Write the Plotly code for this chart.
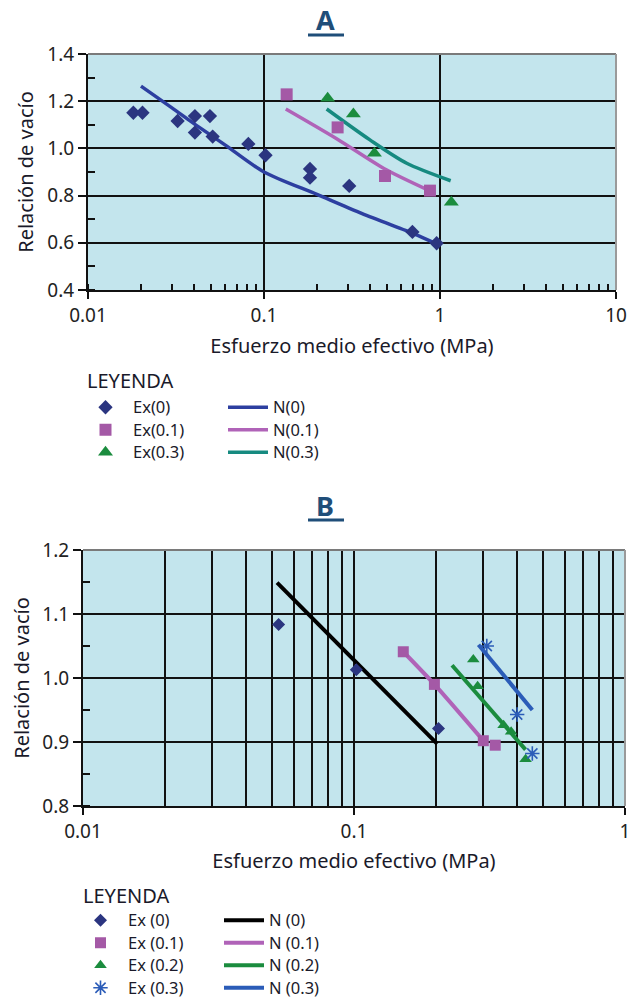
import plotly.graph_objects as go

# ---------------- Panel A data ----------------
a_ex0_x = [0.0181, 0.0204, 0.0323, 0.0405, 0.0405, 0.0493, 0.0511, 0.0815, 0.102, 0.1825, 0.1825, 0.305, 0.697, 0.957]
a_ex0_y = [1.151, 1.151, 1.116, 1.137, 1.067, 1.137, 1.050, 1.019, 0.971, 0.913, 0.876, 0.841, 0.646, 0.598]
a_ex01_x = [0.1345, 0.262, 0.487, 0.877]
a_ex01_y = [1.229, 1.089, 0.883, 0.821]
a_ex03_x = [0.230, 0.322, 0.424, 1.16]
a_ex03_y = [1.212, 1.146, 0.979, 0.772]
a_n0_x = [0.020, 0.030, 0.040, 0.060, 0.10, 0.20, 0.35, 0.70, 0.96]
a_n0_y = [1.264, 1.172, 1.105, 1.015, 0.900, 0.805, 0.728, 0.640, 0.595]
a_n01_x = [0.133, 0.26, 0.48, 0.877]
a_n01_y = [1.167, 1.040, 0.915, 0.820]
a_n03_x = [0.227, 0.40, 0.647, 1.15]
a_n03_y = [1.167, 1.036, 0.937, 0.863]

# ---------------- Panel B data ----------------
b_ex0_x = [0.0527, 0.102, 0.205]
b_ex0_y = [1.0835, 1.013, 0.921]
b_ex01_x = [0.152, 0.198, 0.300, 0.332]
b_ex01_y = [1.041, 0.990, 0.902, 0.895]
b_ex02_x = [0.2756, 0.2859, 0.3565, 0.380, 0.4296]
b_ex02_y = [1.029, 0.987, 0.926, 0.916, 0.873]
b_ex03_x = [0.309, 0.400, 0.455]
b_ex03_y = [1.050, 0.943, 0.882]
b_n0_x = [0.052, 0.2028]
b_n0_y = [1.149, 0.897]
b_n01_x = [0.152, 0.198, 0.300]
b_n01_y = [1.041, 0.990, 0.902]
b_n02_x = [0.230, 0.4296]
b_n02_y = [1.020, 0.888]
b_n03_x = [0.288, 0.455]
b_n03_y = [1.052, 0.950]

# Figure is a little taller than the 999px window so the bottom legend row is not clipped
# by plotly; the window shows the top 999px.
W, H = 640, 1012
def px(x):
    return x / W
def py(y):
    return 1 - y / H

C_DIAM = "#2B3580"
C_SQ = "#A459A6"
C_TRI = "#1B8C3E"
C_N0A = "#2D3FA0"
C_N01 = "#B063B8"
C_N03A = "#168A80"
C_N02B = "#1B8C3E"
C_N03B = "#2B5CB8"
BG = "#C3E5ED"
FONT = "Noto Sans"
TXT = "#1a1a2a"

def lab(s):
    # legend label drawn a bit larger than the legend row pitch font
    return '<span style="font-size:16.5px">%s</span>' % s

fig = go.Figure()

def mk(x, y, name, sym, color, size, xa, ya, legend, lw=0):
    return go.Scatter(x=x, y=y, mode="markers", name=lab(name), xaxis=xa, yaxis=ya, legend=legend,
                      marker=dict(symbol=sym, color=color, size=size,
                                  line=dict(width=lw, color=color)))

def ln(x, y, name, color, width, xa, ya, legend):
    return go.Scatter(x=x, y=y, mode="lines", name=lab(name), xaxis=xa, yaxis=ya, legend=legend,
                      line=dict(color=color, width=width, shape="spline", smoothing=0.8))

# Panel A
fig.add_trace(ln(a_n0_x, a_n0_y, "N(0)", C_N0A, 3.5, "x", "y", "legend2"))
fig.add_trace(ln(a_n01_x, a_n01_y, "N(0.1)", C_N01, 3.5, "x", "y", "legend2"))
fig.add_trace(ln(a_n03_x, a_n03_y, "N(0.3)", C_N03A, 3.5, "x", "y", "legend2"))
fig.add_trace(mk(a_ex0_x, a_ex0_y, "Ex(0)", "diamond", C_DIAM, 11, "x", "y", "legend"))
fig.add_trace(mk(a_ex01_x, a_ex01_y, "Ex(0.1)", "square", C_SQ, 12, "x", "y", "legend"))
fig.add_trace(mk(a_ex03_x, a_ex03_y, "Ex(0.3)", "triangle-up", C_TRI, 13, "x", "y", "legend"))

# Panel B
fig.add_trace(ln(b_n0_x, b_n0_y, "N (0)", "#000000", 4, "x2", "y2", "legend4"))
fig.add_trace(ln(b_n01_x, b_n01_y, "N (0.1)", C_N01, 4, "x2", "y2", "legend4"))
fig.add_trace(ln(b_n02_x, b_n02_y, "N (0.2)", C_N02B, 4, "x2", "y2", "legend4"))
fig.add_trace(ln(b_n03_x, b_n03_y, "N (0.3)", C_N03B, 4, "x2", "y2", "legend4"))
fig.add_trace(mk(b_ex0_x, b_ex0_y, "Ex (0)", "diamond", C_DIAM, 10, "x2", "y2", "legend3"))
fig.add_trace(mk(b_ex01_x, b_ex01_y, "Ex (0.1)", "square", C_SQ, 11, "x2", "y2", "legend3"))
fig.add_trace(mk(b_ex02_x, b_ex02_y, "Ex (0.2)", "triangle-up", C_TRI, 11, "x2", "y2", "legend3"))
fig.add_trace(mk(b_ex03_x, b_ex03_y, "Ex (0.3)", "asterisk-open", C_N03B, 12, "x2", "y2", "legend3", lw=1.6))

tickfont = dict(family=FONT, size=19, color="#222222")
titlefont = dict(family=FONT, size=20, color=TXT)

common_x = dict(type="log", showline=True, linecolor="#111111", linewidth=2,
                gridcolor="#111111", gridwidth=1.5, tickfont=tickfont, ticks="outside",
                ticklen=7, tickwidth=1.5, tickcolor="#111111", zeroline=False, automargin=True)
common_y = dict(showline=True, linecolor="#111111", linewidth=2, gridcolor="#111111",
                gridwidth=1.5, tickfont=tickfont, ticks="outside", ticklen=8,
                tickwidth=1.5, tickcolor="#111111", zeroline=False, tickformat=".1f",
                automargin=True)

fig.update_layout(
    width=W, height=H, margin=dict(l=0, r=0, t=0, b=0, autoexpand=False),
    paper_bgcolor="white", plot_bgcolor=BG,
    font=dict(family=FONT, color=TXT),
    xaxis=dict(common_x, domain=[px(88), px(616)], range=[-2, 1], anchor="y",
               tickvals=[0.01, 0.1, 1, 10], ticktext=["0.01", "0.1", "1", "10"],
               minor=dict(dtick="D1", ticks="inside", ticklen=6, tickwidth=1.5,
                          tickcolor="#111111", showgrid=False),
               title=dict(text="Esfuerzo medio efectivo (MPa)", font=titlefont, standoff=12)),
    yaxis=dict(common_y, domain=[py(290), py(54)], range=[0.4, 1.4], dtick=0.2, anchor="x",
               minor=dict(dtick=0.1, ticks="inside", ticklen=7, tickwidth=1.5,
                          tickcolor="#111111", showgrid=False),
               title=dict(text="Relación de vacío", font=titlefont, standoff=8)),
    xaxis2=dict(common_x, domain=[px(83), px(625)], range=[-2, 0], anchor="y2",
                tickvals=[0.01, 0.1, 1], ticktext=["0.01", "0.1", "1"],
                minor=dict(dtick="D1", ticks="", showgrid=True, gridcolor="#111111", gridwidth=1.5),
                title=dict(text="Esfuerzo medio efectivo (MPa)", font=titlefont, standoff=11)),
    yaxis2=dict(common_y, domain=[py(806), py(550)], range=[0.8, 1.2], dtick=0.1, anchor="x2",
                minor=dict(dtick=0.05, ticks="inside", ticklen=7, tickwidth=1.5,
                           tickcolor="#111111", showgrid=False),
                title=dict(text="Relación de vacío", font=titlefont, standoff=7)),
    showlegend=True,
)

legfont = dict(family=FONT, size=15, color=TXT)
leg_common = dict(bgcolor="rgba(0,0,0,0)", borderwidth=0, font=legfont,
                  xanchor="left", yanchor="top", orientation="v", traceorder="normal",
                  itemclick=False, itemdoubleclick=False)
fig.update_layout(
    legend=dict(leg_common, x=px(78), y=py(391), itemwidth=45),
    legend2=dict(leg_common, x=px(223), y=py(391), itemwidth=40),
    legend3=dict(leg_common, x=px(73), y=py(904), itemwidth=45),
    legend4=dict(leg_common, x=px(219), y=py(904), itemwidth=40),
)

# Legend headings
for xl, yc in [(85, 380), (81, 895)]:
    fig.add_annotation(text="LEYENDA", x=px(xl), y=py(yc), xref="paper", yref="paper",
                       showarrow=False, xanchor="left", yanchor="middle",
                       font=dict(family=FONT, size=20, color=TXT))

# Panel titles with underline
TITLE_C = "#1F4E79"
for txt, yc, yu in [("A", 20, 35), ("B", 505, 520)]:
    fig.add_annotation(text="<b>%s</b>" % txt, x=px(325), y=py(yc), xref="paper", yref="paper",
                       showarrow=False, font=dict(family=FONT, size=27, color=TITLE_C),
                       xanchor="center", yanchor="middle")
    fig.add_shape(type="line", xref="paper", yref="paper", x0=px(308), x1=px(344),
                  y0=py(yu), y1=py(yu), line=dict(color=TITLE_C, width=3))

# Gray top/right frame edges
for xa, ya in [("x", "y"), ("x2", "y2")]:
    fig.add_shape(type="line", xref=xa + " domain", yref=ya + " domain", x0=0, x1=1, y0=1, y1=1,
                  line=dict(color="#7a7a7a", width=2), layer="above")
    fig.add_shape(type="line", xref=xa + " domain", yref=ya + " domain", x0=1, x1=1, y0=0, y1=1,
                  line=dict(color="#9a9a9a", width=2), layer="above")

# The page body has a default 8px margin; remove it so the figure starts at the window corner.
fig.write_html("out.html", config={"displayModeBar": False},
               post_script="document.body.style.margin='0px';document.body.style.overflow='hidden';")
